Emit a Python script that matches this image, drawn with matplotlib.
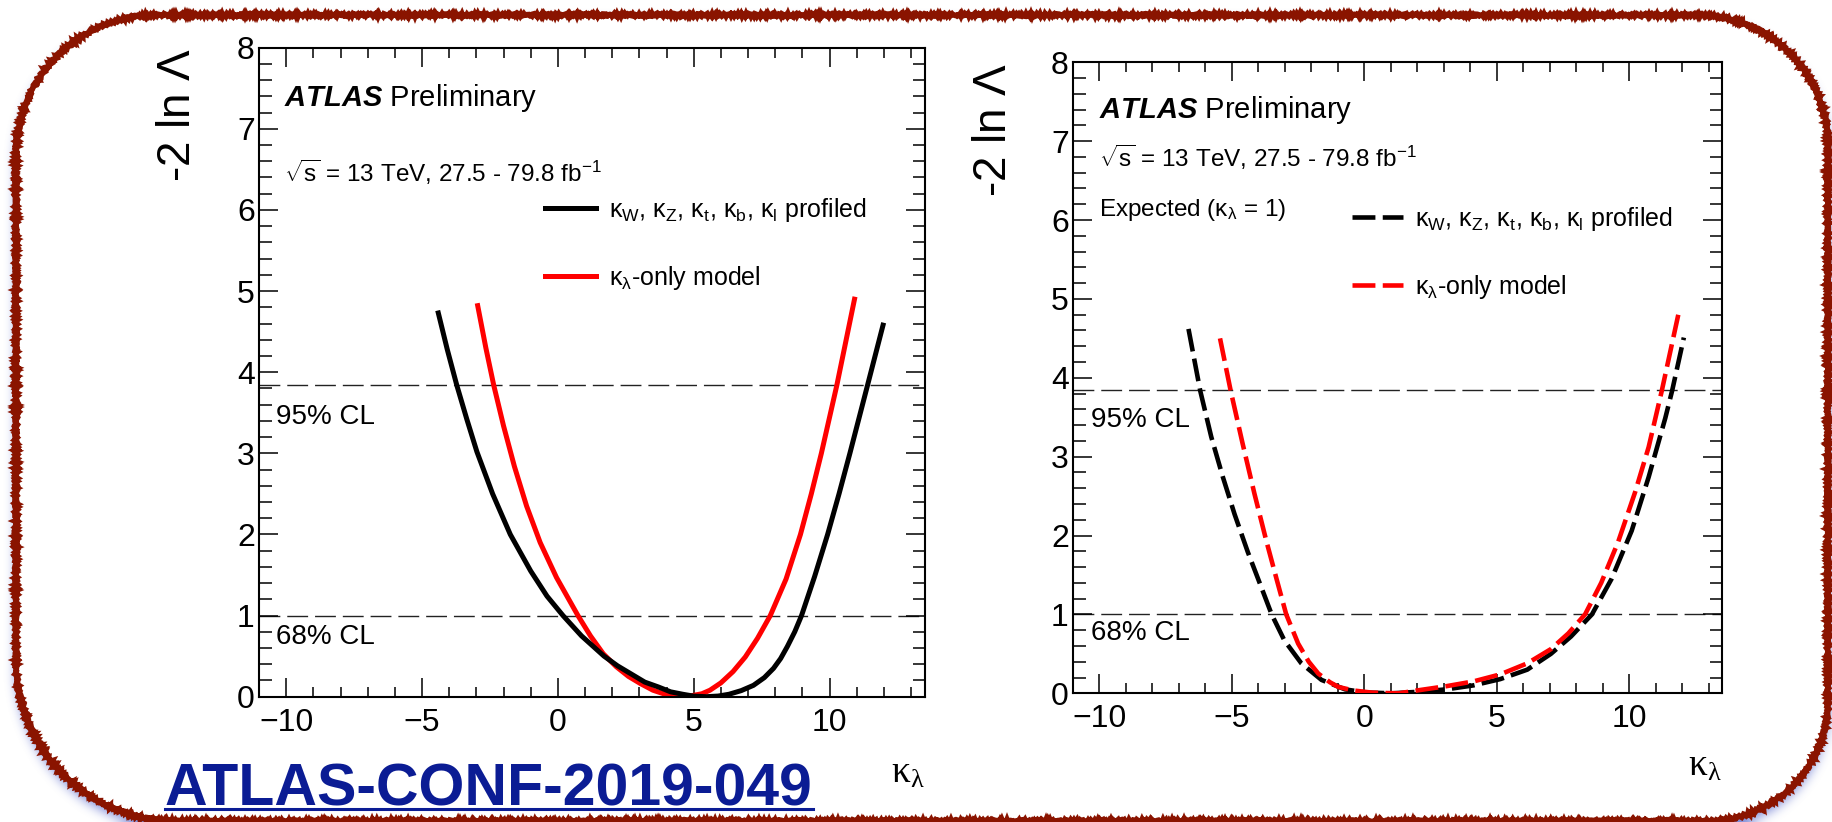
import numpy as np
import matplotlib as mpl
import matplotlib.pyplot as plt
from matplotlib.path import Path
from matplotlib.patches import PathPatch
from matplotlib.lines import Line2D
from matplotlib.ticker import MultipleLocator

# fonts: Helvetica-like text, greek + subscripts through mathtext
mpl.rcParams['font.family'] = 'Liberation Sans'
mpl.rcParams['mathtext.fontset'] = 'custom'
mpl.rcParams['mathtext.rm'] = 'Liberation Sans'
mpl.rcParams['mathtext.it'] = 'Liberation Sans:italic'
mpl.rcParams['mathtext.bf'] = 'Liberation Sans:bold'
mpl.rcParams['mathtext.bfit'] = 'Liberation Sans:bold:italic'

W, H = 1832, 822

# observed likelihood scans
obs_prof_k = [-4.40, -4.07, -3.72, -3.35, -2.98, -2.40, -1.75, -1.00, -0.40, 0.19, 0.87,
              1.70, 2.20, 2.70, 3.20, 3.70, 4.15, 4.60, 5.00, 5.46, 5.90, 6.30, 6.75,
              7.20, 7.60, 7.94, 8.20, 8.45, 8.72, 8.97, 9.45, 9.93, 10.35, 10.75, 11.40,
              11.97]
obs_prof_nll = [4.73, 4.28, 3.84, 3.42, 3.02, 2.50, 2.00, 1.55, 1.24, 1.00, 0.75,
                0.50, 0.38, 0.28, 0.18, 0.12, 0.06, 0.03, 0.007, 0.0, 0.008, 0.03, 0.075,
                0.14, 0.235, 0.35, 0.47, 0.62, 0.80, 1.00, 1.48, 2.00, 2.50, 3.00, 3.84,
                4.58]
obs_only_k = [-2.95, -2.65, -2.36, -2.00, -1.60, -1.15, -0.65, -0.05, 0.74, 1.20, 1.67,
              2.15, 2.60, 3.05, 3.50, 3.95, 4.20, 4.72, 5.30, 5.60, 6.00, 6.45, 6.90,
              7.35, 7.82, 8.40, 8.93, 9.33, 9.70, 10.27, 10.92]
obs_only_nll = [4.82, 4.30, 3.84, 3.34, 2.84, 2.35, 1.90, 1.47, 1.00, 0.75, 0.53,
                 0.37, 0.25, 0.16, 0.08, 0.03, 0.015, 0.0, 0.036, 0.08, 0.17, 0.31, 0.49,
                 0.72, 1.00, 1.45, 2.00, 2.50, 3.00, 3.84, 4.90]

# expected (Asimov, kappa_lambda = 1) scans
exp_prof_k = [-6.64, -6.20, -5.78, -5.35, -4.90, -4.40, -3.92, -3.50, -3.02, -2.38, -1.62,
              -0.73, 0.04, 1.06, 2.07, 3.09, 4.11, 5.13, 6.15, 7.04, 7.80, 8.59, 9.33,
              10.09, 10.73, 11.36, 11.62, 12.06]
exp_prof_nll = [4.62, 3.84, 3.25, 2.75, 2.27, 1.79, 1.37, 1.00, 0.67, 0.38, 0.17,
                0.05, 0.01, 0.0, 0.02, 0.05, 0.10, 0.18, 0.30, 0.50, 0.72, 1.00, 1.45,
                2.06, 2.74, 3.49, 3.84, 4.51]
exp_only_k = [-5.45, -5.05, -4.60, -4.15, -3.70, -3.30, -2.95, -2.50, -2.10, -1.74, -1.30,
              -0.98, -0.40, 0.30, 1.30, 2.07, 3.09, 4.11, 5.13, 6.15, 7.04, 7.70, 8.33,
              8.94, 9.58, 10.22, 10.73, 11.23, 11.85]
exp_only_nll = [4.50, 3.84, 3.17, 2.53, 1.93, 1.43, 1.00, 0.63, 0.40, 0.25, 0.14,
                0.08, 0.035, 0.008, 0.0, 0.04, 0.09, 0.15, 0.24, 0.38, 0.56, 0.76, 1.00,
                1.40, 1.92, 2.55, 3.12, 3.84, 4.80]

cl_levels = [3.84, 1.0]
cl_labels = ['95% CL', '68% CL']
lbl_prof = (r'κ$_\mathregular{W}$, κ$_\mathregular{Z}$, κ$_\mathregular{t}$, '
            r'κ$_\mathregular{b}$, κ$_\mathregular{l}$ profiled')
lbl_only = r'κ$_\mathregular{λ}$-only model'

fig = plt.figure(figsize=(W / 100, H / 100), dpi=100)


def px_axes(l, t, r, b):
    return fig.add_axes([l / W, 1 - b / H, (r - l) / W, (b - t) / H])


def style_axes(ax):
    ax.set_xlim(-11, 13.5)
    ax.set_ylim(0, 8)
    ax.xaxis.set_major_locator(MultipleLocator(5))
    ax.xaxis.set_minor_locator(MultipleLocator(1))
    ax.yaxis.set_major_locator(MultipleLocator(1))
    ax.yaxis.set_minor_locator(MultipleLocator(0.2))
    ax.tick_params(which='both', direction='in', top=True, right=True, width=1.1, labelsize=23)
    ax.tick_params(axis='x', which='major', length=14, pad=8)
    ax.tick_params(axis='x', which='minor', length=7)
    ax.tick_params(axis='y', which='major', length=14, pad=3)
    ax.tick_params(axis='y', which='minor', length=9)
    for s in ax.spines.values():
        s.set_linewidth(1.5)
    for lev in cl_levels:
        ax.axhline(lev, color='#222222', lw=1.0, ls=(0, (15, 5)), zorder=1)


def add_labels(ax, xlab_y):
    ax.text(-0.122, 1.0, r'-2 ln $\mathregular{\Lambda}$', rotation=90, ha='center', va='top',
            fontsize=33, transform=ax.transAxes)
    ax.text(1.0, xlab_y, r'$\mathregular{\kappa_{\lambda}}$', ha='right', va='baseline',
            fontsize=27, family='Liberation Serif', transform=ax.transAxes)


# left: observed
ax_l = px_axes(259, 47.7, 924.6, 696.7)
style_axes(ax_l)
ax_l.plot(obs_prof_k, obs_prof_nll, color='black', lw=3.6, zorder=3)
ax_l.plot(obs_only_k, obs_only_nll, color='#ff0000', lw=3.6, zorder=2)
add_labels(ax_l, -0.133)
ax_l.text(0.0376, 0.9225, r'$\mathbfit{ATLAS}$ Preliminary', fontsize=21, va='center',
          transform=ax_l.transAxes)
ax_l.text(0.0376, 0.808, r'$\mathregular{\sqrt{s}}$ = 13 TeV, 27.5 - 79.8 fb$^{\mathregular{-1}}$',
          fontsize=17.5, va='center', transform=ax_l.transAxes)
ax_l.text(0.0255, 0.431, cl_labels[0], fontsize=20, va='center', transform=ax_l.transAxes)
ax_l.text(0.0255, 0.092, cl_labels[1], fontsize=20, va='center', transform=ax_l.transAxes)
ax_l.legend([Line2D([], [], color='black', lw=3.6), Line2D([], [], color='#ff0000', lw=3.6)],
            [lbl_prof, lbl_only], loc='upper left', bbox_to_anchor=(0.43, 0.772),
            frameon=False, fontsize=18, handlelength=2.05, handletextpad=0.5,
            labelspacing=1.6, borderpad=0, borderaxespad=0)

# right: expected
dash = (0, (5, 1.6))
ax_r = px_axes(1073, 62.3, 1722, 693.3)
style_axes(ax_r)
ax_r.plot(exp_prof_k, exp_prof_nll, color='black', lw=3.3, ls=dash, zorder=2)
ax_r.plot(exp_only_k, exp_only_nll, color='#ff0000', lw=3.3, ls=dash, zorder=3)
add_labels(ax_r, -0.13)
ax_r.text(0.040, 0.924, r'$\mathbfit{ATLAS}$ Preliminary', fontsize=21, va='center',
          transform=ax_r.transAxes)
ax_r.text(0.040, 0.85, r'$\mathregular{\sqrt{s}}$ = 13 TeV, 27.5 - 79.8 fb$^{\mathregular{-1}}$',
          fontsize=17.5, va='center', transform=ax_r.transAxes)
ax_r.text(0.040, 0.766, r'Expected (κ$_\mathregular{λ}$ = 1)', fontsize=17.5,
          va='center', transform=ax_r.transAxes)
ax_r.text(0.027, 0.433, cl_labels[0], fontsize=20, va='center', transform=ax_r.transAxes)
ax_r.text(0.027, 0.0956, cl_labels[1], fontsize=20, va='center', transform=ax_r.transAxes)
ax_r.legend([Line2D([], [], color='black', lw=3.3, ls=dash),
             Line2D([], [], color='#ff0000', lw=3.3, ls=dash)],
            [lbl_prof, lbl_only], loc='upper left', bbox_to_anchor=(0.43, 0.774),
            frameon=False, fontsize=18, handlelength=2.05, handletextpad=0.45,
            labelspacing=1.6, borderpad=0, borderaxespad=0)

# slide frame drawn in pixel coordinates underneath the plots
ov = fig.add_axes([0, 0, 1, 1], zorder=-1)
ov.axis('off')


def rounded_rect(l, t, r, b, rtl, rtr, rbr, rbl):
    pts = []
    for cx, cy, rad, a0 in [(l + rtl, t + rtl, rtl, 180), (r - rtr, t + rtr, rtr, 270),
                            (r - rbr, b - rbr, rbr, 0), (l + rbl, b - rbl, rbl, 90)]:
        ang = np.radians(np.linspace(a0, a0 + 90, 40))
        pts.append(np.c_[cx + rad * np.cos(ang), cy + rad * np.sin(ang)])
    pts = np.vstack(pts)
    return np.vstack([pts, pts[:1]])


def blur1d(a, r, axis):
    a = np.moveaxis(a, axis, -1)
    p = np.pad(a, [(0, 0), (r + 1, r)], mode='edge')
    c = np.cumsum(p, axis=-1)
    out = (c[:, 2 * r + 1:] - c[:, :-2 * r - 1]) / (2 * r + 1)
    return np.moveaxis(out, -1, axis)


frame = rounded_rect(16, 15, 1828, 821, 140, 130, 120, 160)

# soft blue drop shadow
yy, xx = np.mgrid[0:H, 0:W]
pix = np.c_[xx.ravel() + 0.5, yy.ravel() + 0.5]
mask = Path(frame + [0, 7]).contains_points(pix).reshape(H, W).astype(float)
for _ in range(3):
    mask = blur1d(mask, 5, 0)
    mask = blur1d(mask, 5, 1)
shadow = np.zeros((H, W, 4))
shadow[..., 0] = 0.36
shadow[..., 1] = 0.42
shadow[..., 2] = 0.80
shadow[..., 3] = mask * 0.8
ov.imshow(shadow, extent=(0, W, H, 0), interpolation='nearest', zorder=0, aspect='auto')

ov.add_patch(PathPatch(Path(frame), facecolor='white', edgecolor='none', zorder=1))
edge = PathPatch(Path(frame), facecolor='none', edgecolor='#8a1400', lw=4.0, zorder=2)
edge.set_sketch_params(scale=1.3, length=3, randomness=2)
ov.add_patch(edge)
ov.set_xlim(0, W)
ov.set_ylim(H, 0)

# conference note reference
ref = fig.text(165 / W, 1 - 805 / H, 'ATLAS-CONF-2019-049', fontsize=42.5, fontweight='bold',
               color='#0b1c94', va='baseline')
fig.canvas.draw()
bb = ref.get_window_extent()
ov.plot([bb.x0, bb.x1], [809, 809], color='#0b1c94', lw=2.2, zorder=3)

fig.savefig('out.png', dpi=100)
